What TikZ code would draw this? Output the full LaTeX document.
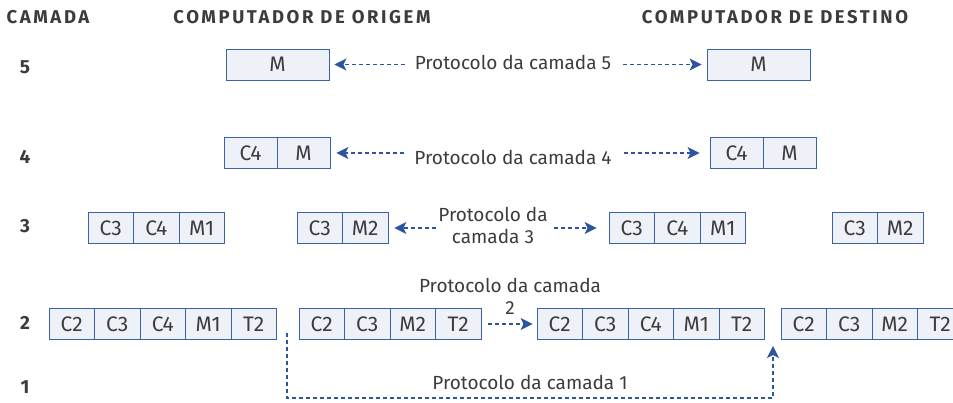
\documentclass[tikz,border=0pt]{standalone}
\usepackage{fontspec}
\setmainfont{Fira Sans}
\newfontfamily\headfont[LetterSpace=14]{Fira Sans}
\usetikzlibrary{arrows.meta,positioning}
\definecolor{boxline}{RGB}{58,98,168}
\definecolor{boxfill}{RGB}{238,241,248}
\definecolor{arrowcol}{RGB}{44,84,160}
\definecolor{inkcol}{RGB}{60,60,60}

\begin{document}
\begin{tikzpicture}[x=1pt,y=-1pt,
  cell/.style={draw=boxline,fill=boxfill,line width=0.9pt,minimum width=45.5pt,
    minimum height=31pt,inner sep=0pt,text=inkcol,font=\fontsize{21}{21}\selectfont},
  widecell/.style={cell,minimum width=103pt},
  midcell/.style={cell,minimum width=53pt},
  proto/.style={arrowcol,line width=1.1pt,dash pattern=on 4pt off 3pt,
    -{Stealth[length=12pt,width=12pt,inset=3pt]}},
  lbl/.style={text=inkcol,font=\fontsize{19}{22}\selectfont,align=center,inner sep=0pt},
  head/.style={text=inkcol,font=\headfont\bfseries\fontsize{18.5}{18.5}\selectfont,inner sep=0pt},
  num/.style={text=inkcol,font=\bfseries\fontsize{19}{19}\selectfont,inner sep=0pt}]
\useasboundingbox (0,0) rectangle (953,402);
% column heads and layer numbers
\node[head] (hcam) at (48,17) {CAMADA};
\node[head] (horig) at (302,17) {COMPUTADOR DE ORIGEM};
\node[head] (hdest) at (775,17) {COMPUTADOR DE DESTINO};
\foreach \n/\y in {5/67,4/157,3/226,2/323,1/387}
  \node[num] (n\n) at (25,\y) {\n};
% layer 5
\node[widecell] (s5) at (277.5,64.5) {M};
\node[widecell] (d5) at (758.5,64.5) {M};
\node[lbl] (l5) at (513,62) {Protocolo da camada 5};
\draw[proto,shorten <=10pt,shorten >=5pt] (l5.west |- s5.east) -- (s5.east);
\draw[proto,shorten <=12pt,shorten >=5pt] (l5.east |- d5.west) -- (d5.west);
% layer 4
\foreach \t [count=\i] in {C4,M} {
  \node[midcell] (s4\i) at ({224+26.5+(\i-1)*53},153) {\t};
  \node[midcell] (d4\i) at ({710+26.5+(\i-1)*53},153) {\t};
}
\node[lbl] (l4) at (513,157) {Protocolo da camada 4};
\draw[proto,shorten <=10pt,shorten >=6pt] (l4.west |- s42.east) -- (s42.east);
\draw[proto,shorten <=12pt,shorten >=10pt] (l4.east |- d41.west) -- (d41.west);
% layer 3
\foreach \t [count=\i] in {C3,C4,M1} {
  \node[cell] (g3a\i) at ({88+22.75+(\i-1)*45.5},228) {\t};
  \node[cell] (g3c\i) at ({609+22.75+(\i-1)*45.5},228) {\t};
}
\foreach \t [count=\i] in {C3,M2} {
  \node[cell] (g3b\i) at ({297+22.75+(\i-1)*45.5},228) {\t};
  \node[cell] (g3d\i) at ({832+22.75+(\i-1)*45.5},228) {\t};
}
\node[lbl] (l3) at (493,225) {Protocolo da\\camada 3};
\draw[proto,shorten <=2pt,shorten >=6pt] (l3.west |- g3b2.east) -- (g3b2.east);
\draw[proto,shorten <=6pt,shorten >=12pt] (l3.east |- g3c1.west) -- (g3c1.west);
% layer 2
\foreach \t [count=\i] in {C2,C3,C4,M1,T2} {
  \node[cell] (g2a\i) at ({49+22.75+(\i-1)*45.5},324) {\t};
  \node[cell] (g2c\i) at ({537+22.75+(\i-1)*45.5},324) {\t};
}
\foreach \t [count=\i] in {C2,C3,M2,T2} {
  \node[cell] (g2b\i) at ({299+22.75+(\i-1)*45.5},324) {\t};
  \node[cell] (g2d\i) at ({781+22.75+(\i-1)*45.5},324) {\t};
}
\node[lbl] (l2) at (510,296) {Protocolo da camada\\2};
\draw[proto,shorten <=7pt,shorten >=4pt] (g2b4.east) -- (g2c1.west);
% layer 1
\coordinate (p1s) at (287,333);
\coordinate (p1e) at (773,346);
\draw[proto] (p1s) -- ++(0,65) -| (p1e);
\node[lbl] (l1) at (530,382) {Protocolo da camada 1};
\end{tikzpicture}
\end{document}
